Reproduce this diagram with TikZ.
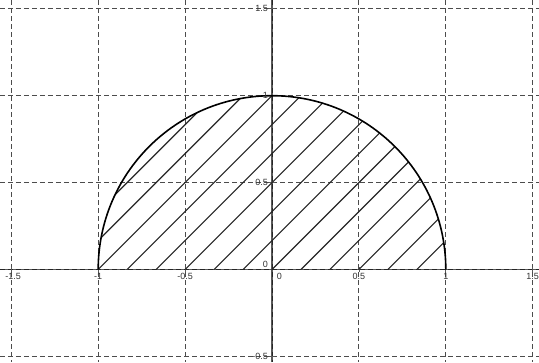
\documentclass[tikz,border=0pt]{standalone}
\usepackage{fontspec}
\setmainfont{Liberation Sans}
\begin{document}
\begin{tikzpicture}[x=173.8pt,y=173.8pt,
  gridline/.style={draw=black!70,line width=1pt,dash pattern=on 5pt off 3pt},
  axisline/.style={draw=black!65,line width=1.2pt},
  hatchline/.style={draw=black!85,line width=1.1pt},
  curve/.style={draw=black,line width=1.6pt},
  lbl/.style={font=\fontsize{9}{10}\selectfont,text=black!80,inner sep=0pt}]
\useasboundingbox (-1.565,-0.5322) rectangle (1.5362,1.5506);
\fill[white] (-1.565,-0.5322) rectangle (1.5362,1.5506);
% grid
\foreach \gx in {-1.5,-1,-0.5,0.5,1,1.5}
  \draw[gridline] (\gx,1.5506) -- (\gx,-0.5322);
\foreach \gy in {-0.5,0.5,1,1.5}
  \draw[gridline] (-1.565,\gy) -- (1.5362,\gy);
% axes
\coordinate (xl) at (-1.565,0);
\coordinate (xr) at (1.5362,0);
\coordinate (yb) at (0,-0.5322);
\coordinate (yt) at (0,1.5506);
\draw[axisline] (xl) -- (xr);
\draw[axisline] (yb) -- (yt);
\draw[gridline,draw=black!85] (xl) -- (xr);
\draw[gridline,draw=black!85] (yt) -- (yb);
% ticks
\foreach \gx in {-1.5,-1,-0.5,0.5,1,1.5}
  \draw[axisline,line width=0.8pt] (\gx,-0.015) -- (\gx,0.015);
\foreach \gy in {-0.5,0.5,1,1.5}
  \draw[axisline,line width=0.8pt] (-0.015,\gy) -- (0.015,\gy);
% hatching
\begin{scope}
  \clip (-1,0) arc (180:0:1) -- cycle;
  \foreach \k in {-6,...,8}
    \draw[hatchline] (-1.7,{-1.7+\k/6}) -- (1.7,{1.7+\k/6});
\end{scope}
% semicircle
\coordinate (A) at (-1,0);
\coordinate (B) at (1,0);
\draw[curve] (A) arc (180:0:1);
% x labels
\node[lbl,anchor=north] (xm15) at (-1.49,-0.02) {-1.5};
\node[lbl,anchor=north] (xm1) at (-1,-0.02) {-1};
\node[lbl,anchor=north] (xm05) at (-0.5,-0.02) {-0.5};
\node[lbl,anchor=north] (x0) at (0.042,-0.02) {0};
\node[lbl,anchor=north] (x05) at (0.5,-0.02) {0.5};
\node[lbl,anchor=north] (x1) at (1,-0.02) {1};
\node[lbl,anchor=north] (x15) at (1.5,-0.02) {1.5};
% y labels
\node[lbl,anchor=east] (y15) at (-0.022,1.5) {1.5};
\node[lbl,anchor=east] (y1) at (-0.022,1) {1};
\node[lbl,anchor=east] (y05) at (-0.022,0.5) {0.5};
\node[lbl,anchor=east] (y0) at (-0.022,0.03) {0};
\node[lbl,anchor=east] (ym05) at (-0.022,-0.5) {-0.5};
\end{tikzpicture}
\end{document}
